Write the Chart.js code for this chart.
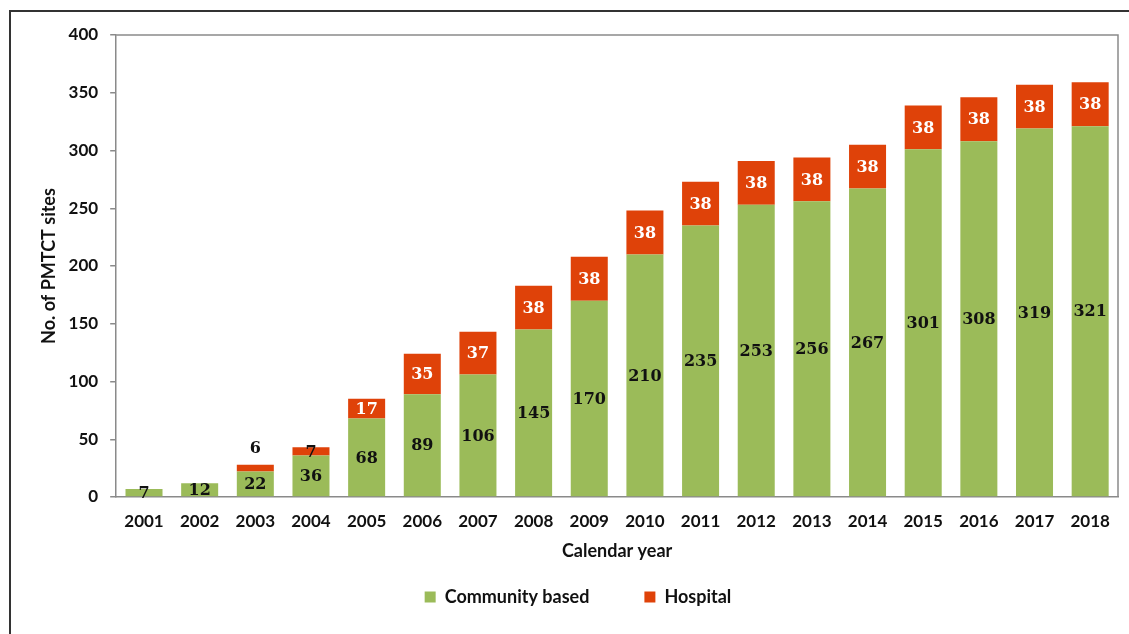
<!DOCTYPE html>
<html>
<head>
<meta charset="utf-8">
<script src="https://cdn.jsdelivr.net/npm/chart.js@4.4.0/dist/chart.umd.min.js"></script>
<style>
  html, body { margin: 0; padding: 0; background: #fff; }
  #wrap { position: relative; width: 1129px; height: 634px; }
  #frame { position: absolute; left: 9px; top: 10px; right: -4px; bottom: -4px; border: 2px solid #333; }
  canvas { position: absolute; left: 0; top: 0; }
</style>
</head>
<body>
<div id="wrap">
  <div id="frame"></div>
  <canvas id="myChart" width="1129" height="634"></canvas>
</div>
<script>
const years = ['2001', '2002', '2003', '2004', '2005', '2006', '2007', '2008', '2009',
  '2010', '2011', '2012', '2013', '2014', '2015', '2016', '2017', '2018'];
const communityBased = [7, 12, 22, 36, 68, 89, 106, 145, 170, 210, 235, 253, 256, 267, 301, 308, 319, 321];
const hospital = [0, 0, 6, 7, 17, 35, 37, 38, 38, 38, 38, 38, 38, 38, 38, 38, 38, 38];
const yTicks = [0, 50, 100, 150, 200, 250, 300, 350, 400];

const GREEN = '#9bbb59';
const RED = '#df4209';
const labelFont = 'bold 16px "DejaVu Serif", serif';

// grey box round the plot area (top and right sides)
const plotFrame = {
  id: 'plotFrame',
  beforeDatasetsDraw(chart) {
    const { ctx, chartArea: a } = chart;
    ctx.save();
    ctx.strokeStyle = '#8a8a8a';
    ctx.lineWidth = 1.5;
    ctx.beginPath();
    ctx.moveTo(a.left, a.top);
    ctx.lineTo(a.right, a.top);
    ctx.lineTo(a.right, a.bottom);
    ctx.stroke();
    ctx.restore();
  }
};

// value labels in the middle of each segment
const segmentLabels = {
  id: 'segmentLabels',
  afterDatasetsDraw(chart) {
    const { ctx } = chart;
    ctx.save();
    ctx.font = labelFont;
    ctx.textAlign = 'center';
    ctx.textBaseline = 'middle';
    chart.data.datasets.forEach((ds, di) => {
      chart.getDatasetMeta(di).data.forEach((bar, i) => {
        const v = ds.data[i];
        if (!v) return;
        let y = (bar.y + bar.base) / 2;
        let color = di === 0 ? '#111' : '#fff';
        if (di === 1 && v < 10) {
          color = '#111';
          if (v < 7) y = bar.y - 17;
        }
        ctx.fillStyle = color;
        ctx.fillText(String(v), bar.x, y + 1);
      });
    });
    ctx.restore();
  }
};

const ctx = document.getElementById('myChart');
new Chart(ctx, {
  type: 'bar',
  data: {
    labels: years,
    datasets: [
      { label: 'Community based', data: communityBased, backgroundColor: GREEN },
      { label: 'Hospital', data: hospital, backgroundColor: RED }
    ]
  },
  plugins: [plotFrame, segmentLabels],
  options: {
    responsive: false,
    animation: false,
    layout: { padding: { left: 38, right: 11, top: 35, bottom: 18 } },
    datasets: { bar: { barPercentage: 0.665, categoryPercentage: 1 } },
    scales: {
      x: {
        stacked: true,
        grid: { display: false, drawTicks: false },
        border: { display: true, color: '#8a8a8a', width: 1.5 },
        ticks: { color: '#111', padding: 14, font: { family: 'Lato', weight: 'bold', size: 17 } },
        title: {
          display: true, text: 'Calendar year', color: '#111',
          padding: { top: -5, bottom: -29 },
          font: { family: 'Lato', weight: 'bold', size: 18 }
        }
      },
      y: {
        stacked: true,
        min: 0, max: 400,
        afterBuildTicks(axis) { axis.ticks = yTicks.map(v => ({ value: v })); },
        grid: { drawOnChartArea: false, color: '#8a8a8a', tickLength: 6, lineWidth: 1.5 },
        border: { display: true, color: '#8a8a8a', width: 1.5 },
        ticks: { color: '#111', padding: 12, font: { family: 'Lato', weight: 'bold', size: 17 } },
        title: {
          display: true, text: 'No. of PMTCT sites', color: '#111',
          padding: { top: 0, bottom: -3 },
          font: { family: 'Lato', weight: 'bold', size: 18 }
        }
      }
    },
    plugins: {
      legend: {
        position: 'bottom',
        labels: {
          color: '#111',
          boxWidth: 11, boxHeight: 11,
          padding: 55,
          font: { family: 'Lato', weight: 'bold', size: 18 }
        }
      },
      tooltip: { enabled: false }
    }
  }
});
</script>
</body>
</html>
